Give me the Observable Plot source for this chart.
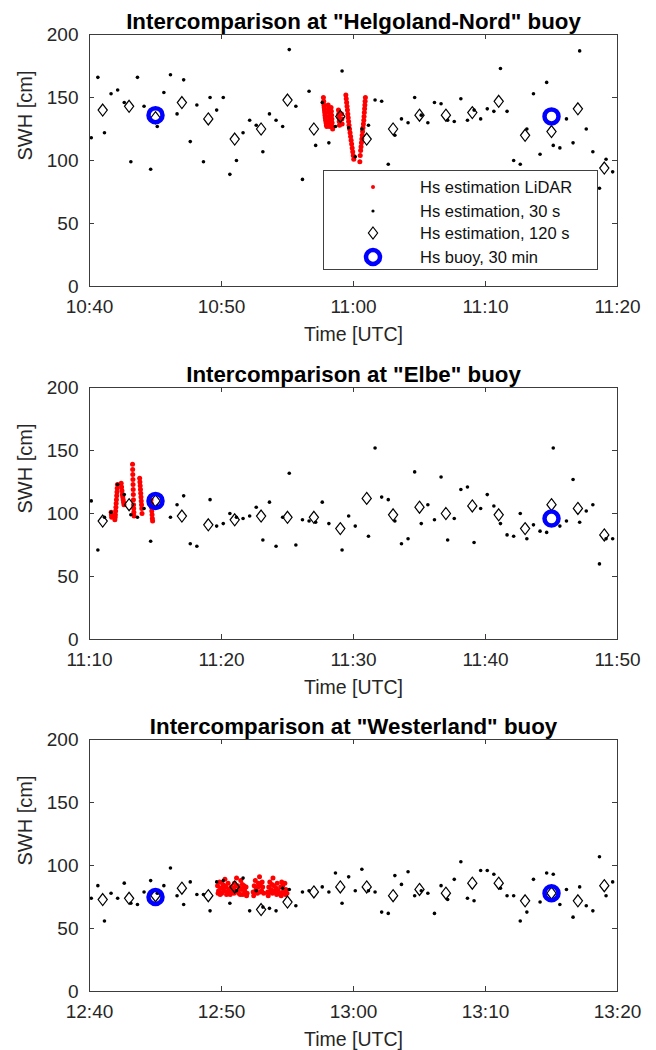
<!DOCTYPE html>
<html>
<head>
<meta charset="utf-8">
<script src="https://cdn.jsdelivr.net/npm/d3@7"></script>
<script src="https://cdn.jsdelivr.net/npm/@observablehq/plot@0.6"></script>
<style>
  html, body { margin: 0; padding: 0; background: #fff; }
  #root { position: relative; width: 656px; height: 1050px; overflow: hidden;
          font-family: "Liberation Sans", Arial, Helvetica, sans-serif; }
  #root svg { display: block; }
  .legend { position: absolute; left: 323px; top: 170px; width: 275px; height: 100px;
            border: 1px solid #404040; background: #fff; box-sizing: border-box; }
  .legend .row { position: absolute; left: 0; width: 273px; height: 22px; }
  .legend .row svg { position: absolute; left: 34px; top: 0; }
  .legend .row span { position: absolute; left: 96px; top: 0; line-height: 22px;
                      font-size: 16.5px; color: #111; white-space: nowrap; }
</style>
</head>
<body>
<div id="root"></div>
<script>
// ---------------- data ----------------
const titles = [
  'Intercomparison at "Helgoland-Nord" buoy',
  'Intercomparison at "Elbe" buoy',
  'Intercomparison at "Westerland" buoy'
];
const starts = ["10:40", "11:10", "12:40"];
const xTickLabels1 = ["10:40", "10:50", "11:00", "11:10", "11:20"];
const xTickLabels2 = ["11:10", "11:20", "11:30", "11:40", "11:50"];
const xTickLabels3 = ["12:40", "12:50", "13:00", "13:10", "13:20"];
const yTicks = [0, 50, 100, 150, 200];
const xLabel = "Time [UTC]";
const yLabel = "SWH [cm]";
const legendLabels = ["Hs estimation LiDAR", "Hs estimation, 30 s", "Hs estimation, 120 s", "Hs buoy, 30 min"];

// 30 s estimates: one value per 30-s window (first window centre ~8 s after start)
const dotOffsetSec = 8, dotStepSec = 30;
const dots1 = [118,166,122,153,156,146,99,166,143,93, 127,154,168,137,164,115,144,99,150,140,
  150,89,100,122,132,128,107,137,132,127, 188,143,85,155,112,146,114,127,171,126,
  103,125,128,148,147,97,120,133,130,150, 136,130,146,145,132,131,149,132,140,133,
  141,139,173,139,100,97,125,153,105,162, 112,110,133,114,187,125,107,78,101,91];
const dots2 = [110,71,97,101,123,115,99,97,104,78, 106,null,97,107,114,76,74,null,111,90,
  92,100,97,96,98,105,79,109,74,97, 132,75,95,94,93,109,92,null,71,98,
  90,null,82,152,113,111,94,76,80,133, 92,107,95,129,79,96,119,121,77,104,
  115,106,92,83,82,100,80,91,86,85, 152,90,94,127,93,102,107,60,80,80];
const dots3 = [74,84,56,78,74,86,70,69,79,88, 78,84,98,76,69,87,77,77,64,87,
  88,70,80,90,64,80,67,66,64,82, 81,68,79,80,null,83,79,94,70,91,
  80,97,80,79,63,62,92,85,95,76, 80,78,62,84,73,89,103,74,72,96,
  96,93,82,76,76,56,63,89,71,94, 93,69,81,59,83,68,64,107,76,87];

// 120 s estimates (minutes after start)
const diamondMinutes = [1,3,5,7,9,11,13,15,17,19,21,23,25,27,29,31,33,35,37,39];
const dia1 = [140,143,134,146,133,117,125,148,125,135,117,125,136,136,138,147,120,123,141,94];
const dia2 = [94,107,110,98,91,95,98,97,97,88,112,99,105,100,106,99,88,107,104,83];
const dia3 = [73,74,76,82,76,83,65,71,79,83,83,76,81,78,86,86,72,78,72,84];

// buoy, 30 min (minutes after start)
const buoyMinutes = [5, 35];
const buoy1 = [136, 135];
const buoy2 = [110, 96];
const buoy3 = [75, 78];

// LiDAR estimates (minutes after start, SWH cm)
const lidar1T = [17.72,17.74,17.76,17.78,17.80,17.82,17.84,17.86,17.89,17.92,17.95,17.98,
  18.08,18.10,18.12,18.14,18.16,18.18,18.20,18.30,18.32,18.34,18.36,18.38,18.40,18.42,
  18.86,18.88,18.90,18.92,18.94,19.10,19.12,19.14,
  19.42,19.45,19.48,19.51,19.54,19.57,19.60,19.63,19.66,19.70,19.74,19.78,19.82,19.86,19.90,19.94,19.98,20.02,
  20.90,20.88,20.86,20.84,20.82,20.80,20.78,20.75,20.72,20.69,20.66,20.63,20.60,20.57,20.54,20.51,20.48];
const lidar1V = [150,147,144,142,140,138,136,134,132,130,128,127,
  144,141,138,135,132,129,127,142,139,136,133,130,127,125,
  140,137,134,131,128,137,133,129,
  152,149,146,143,140,137,134,131,128,125,122,119,116,113,110,107,104,101,
  150,147,144,141,138,135,132,129,126,123,120,117,114,111,108,104,99];
const lidar2T = [1.64,1.66,1.68,
  2.12,2.10,2.08,2.06,2.04,2.02,2.00,1.98,1.96,1.94,1.92,
  2.40,2.43,2.46,2.49,2.52,2.55,2.58,2.61,
  3.26,3.27,3.28,3.29,3.30,3.31,3.32,3.33,3.34,3.35,3.36,3.38,
  3.80,3.82,3.84,3.86,3.88,3.90,3.92,3.94,3.96,3.98,
  4.66,4.68,4.70,4.72,4.74,4.76,4.78];
const lidar2V = [101,99,97,
  123,120,117,114,111,108,105,102,99,97,95,
  124,121,118,115,113,111,109,107,
  139,135,131,127,123,119,115,111,107,104,101,98,
  128,125,122,119,116,113,110,107,104,100,
  111,108,105,102,99,96,94];
const lidar3T = [9.70,9.78,9.86,9.94,10.02,10.10,10.18,10.26,10.34,10.42,10.50,10.58,10.66,10.74,10.80,
  9.74,9.90,10.06,10.22,10.38,10.54,10.70,
  10.90,10.98,11.06,11.14,11.22,11.30,11.38,11.46,11.54,11.62,11.70,11.78,11.86,11.94,
  10.94,11.10,11.26,11.42,11.58,11.74,11.90,
  12.40,12.48,12.56,12.64,12.72,12.80,12.88,12.96,13.04,13.12,13.20,
  12.44,12.60,12.76,12.92,13.08,
  13.50,13.58,13.66,13.74,13.82,13.90,13.98,14.06,14.14,14.22,14.30,
  13.54,13.70,13.86,14.02,14.18,
  14.40,14.48,14.56,14.64,14.72,14.80,14.88,14.96,
  14.52,14.68,14.84];
const lidar3V = [84,80,87,82,78,85,80,89,83,79,86,81,77,83,79,
  78,77,82,84,77,80,82,
  82,86,80,90,84,78,82,88,81,77,84,79,83,78,
  78,84,80,77,85,81,76,
  79,84,88,82,78,86,91,84,80,83,78,
  76,80,83,79,87,
  79,83,87,81,85,90,84,79,82,86,80,
  76,79,78,80,77,
  78,83,87,84,80,86,81,78,
  76,79,77];

// ---------------- drawing ----------------
const FONT = '"Liberation Sans", Arial, Helvetica, sans-serif';
const INK = "#262626";
const FRAME = "#3c3c3c";
const RED = "#ff0000", BLUE = "#0000ff";
const fmt = d3.utcFormat("%H:%M");
const toDate = hm => new Date(`2017-06-01T${hm}:00Z`);

const diamondSymbol = {
  draw(ctx, size) {
    const r = Math.sqrt(size / Math.PI);
    const h = r * 1.2, w = r * 0.92;
    ctx.moveTo(0, -h); ctx.lineTo(w, 0); ctx.lineTo(0, h); ctx.lineTo(-w, 0); ctx.closePath();
  }
};

function panel(cfg) {
  const W = 656, ML = 89, MR = 39, MT = 34, PH = 252;
  const PW = W - ML - MR;
  const t0 = toDate(cfg.start);
  const atMin = m => new Date(+t0 + m * 60000);
  const xTicks = cfg.xTickLabels.map(toDate);
  const dotData = cfg.dots
    .map((v, i) => ({t: new Date(+t0 + (dotOffsetSec + dotStepSec * i) * 1000), v}))
    .filter(d => d.v != null);
  const diaData = cfg.dia.map((v, i) => ({t: atMin(diamondMinutes[i]), v}));
  const buoyData = cfg.buoy.map((v, i) => ({t: atMin(buoyMinutes[i]), v}));
  const lidarData = cfg.lidarT.map((m, i) => ({t: atMin(m), v: cfg.lidarV[i]}));

  return Plot.plot({
    width: W, height: cfg.height,
    marginTop: MT, marginLeft: ML, marginRight: MR, marginBottom: cfg.height - MT - PH,
    style: {fontFamily: FONT, fontSize: "19px", color: INK, background: "#fff", overflow: "visible"},
    x: {type: "utc", domain: [xTicks[0], xTicks[xTicks.length - 1]]},
    y: {domain: [0, 200]},
    marks: [
      Plot.dot(lidarData, {x: "t", y: "v", r: 2.5, fill: RED, stroke: "none"}),
      Plot.dot(dotData, {x: "t", y: "v", r: 1.8, fill: "#000", stroke: "none"}),
      Plot.dot(diaData, {x: "t", y: "v", r: 5, symbol: diamondSymbol, fill: "none", stroke: "#000", strokeWidth: 1.2}),
      Plot.dot(buoyData, {x: "t", y: "v", r: 7, fill: "none", stroke: BLUE, strokeWidth: 4.5}),
      Plot.frame({stroke: FRAME, strokeWidth: 1}),
      Plot.tickX(xTicks, {x: d => d, insetTop: PH - 5, stroke: FRAME}),
      Plot.tickX(xTicks, {x: d => d, insetBottom: PH - 5, stroke: FRAME}),
      Plot.tickY(yTicks, {y: d => d, insetRight: PW - 5, stroke: FRAME}),
      Plot.tickY(yTicks, {y: d => d, insetLeft: PW - 5, stroke: FRAME}),
      Plot.axisX(xTicks, {tickSize: 0, tickPadding: 13, tickFormat: fmt, label: null, fontSize: 19, fill: INK}),
      Plot.axisY(yTicks, {tickSize: 0, tickPadding: 11, label: null, fontSize: 19, fill: INK}),
      Plot.text([cfg.title], {text: d => d, frameAnchor: "top", dy: -6, lineAnchor: "bottom",
        fontWeight: "bold", fontSize: 22.3, fill: "#000"}),
      Plot.text([xLabel], {text: d => d, frameAnchor: "bottom", dy: 41, lineAnchor: "top", fontSize: 19.5, fill: INK}),
      Plot.text([yLabel], {text: d => d, frameAnchor: "left", dx: -64, rotate: -90, fontSize: 20, fill: INK})
    ]
  });
}

const root = document.getElementById("root");
const cfgs = [
  {title: titles[0], start: starts[0], xTickLabels: xTickLabels1, dots: dots1, dia: dia1, buoy: buoy1, lidarT: lidar1T, lidarV: lidar1V, height: 353},
  {title: titles[1], start: starts[1], xTickLabels: xTickLabels2, dots: dots2, dia: dia2, buoy: buoy2, lidarT: lidar2T, lidarV: lidar2V, height: 352},
  {title: titles[2], start: starts[2], xTickLabels: xTickLabels3, dots: dots3, dia: dia3, buoy: buoy3, lidarT: lidar3T, lidarV: lidar3V, height: 345}
];
for (const c of cfgs) {
  if (c.lidarT.length !== c.lidarV.length) console.error("lidar length mismatch", c.start, c.lidarT.length, c.lidarV.length);
  root.appendChild(panel(c));
}

// legend (panel 1)
const legend = document.createElement("div");
legend.className = "legend";
const rowCenters = [16, 40, 62, 86];
const markerSvgs = [
  `<svg width="30" height="22"><circle cx="15" cy="11" r="2" fill="${RED}"/></svg>`,
  `<svg width="30" height="22"><circle cx="15" cy="11" r="1.6" fill="#000"/></svg>`,
  `<svg width="30" height="22"><path d="M15,5 L19.6,11 L15,17 L10.4,11 Z" fill="none" stroke="#000" stroke-width="1.2"/></svg>`,
  `<svg width="30" height="22"><circle cx="15" cy="11" r="7" fill="none" stroke="${BLUE}" stroke-width="4.5"/></svg>`
];
legendLabels.forEach((lab, i) => {
  const row = document.createElement("div");
  row.className = "row";
  row.style.top = (rowCenters[i] - 11) + "px";
  row.innerHTML = markerSvgs[i] + `<span>${lab}</span>`;
  legend.appendChild(row);
});
root.appendChild(legend);
</script>
</body>
</html>
